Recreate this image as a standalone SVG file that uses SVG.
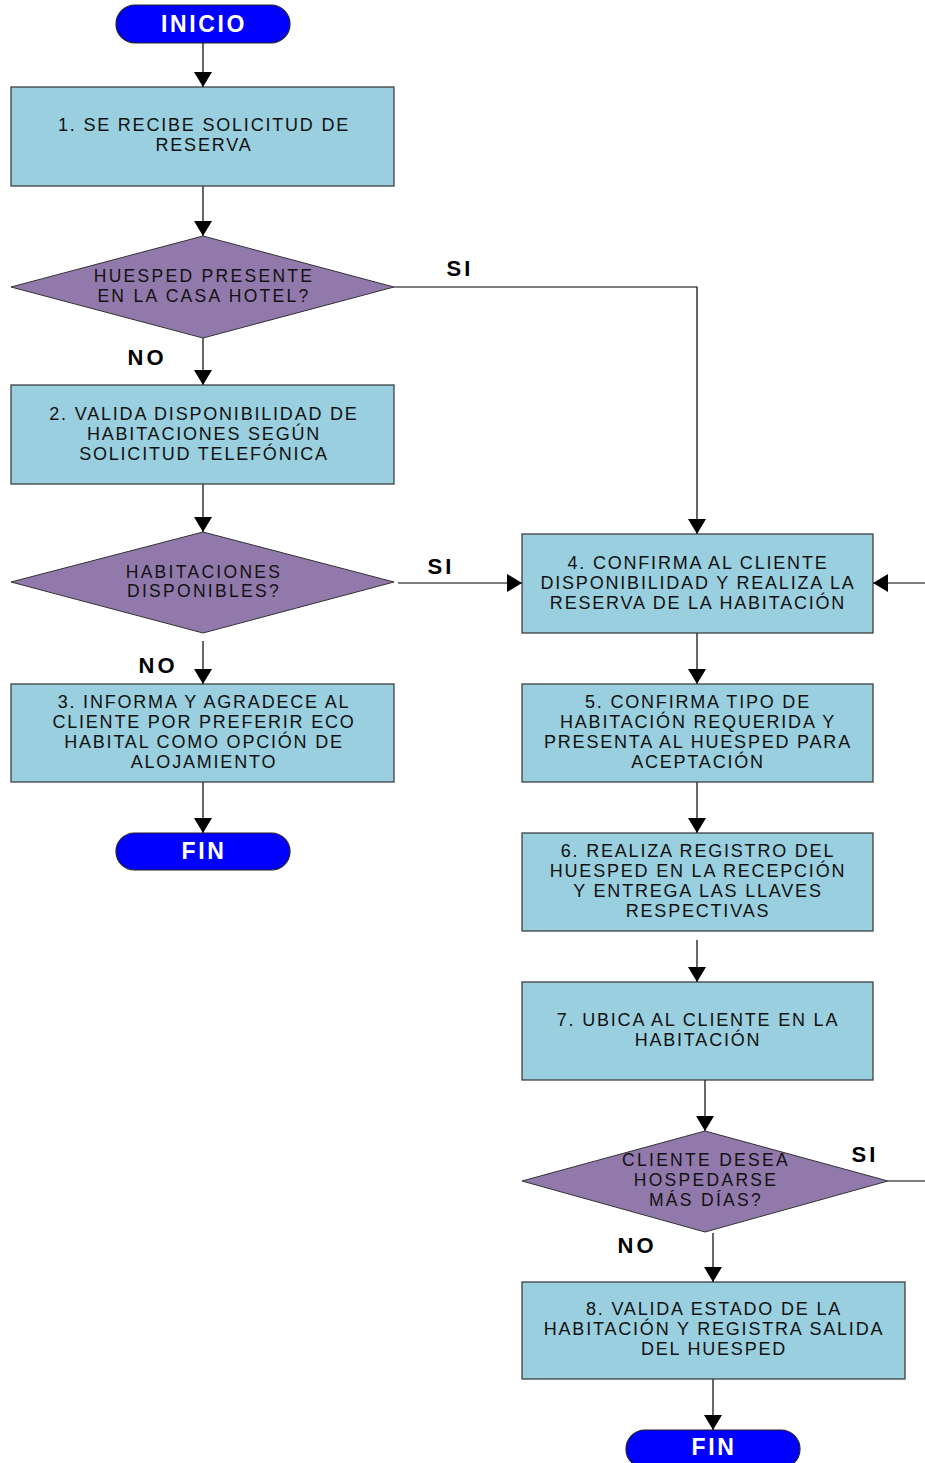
<svg xmlns="http://www.w3.org/2000/svg" width="925" height="1463" viewBox="0 0 925 1463">
<defs>
<marker id="ah" markerWidth="15" markerHeight="18" refX="15" refY="9" orient="auto" markerUnits="userSpaceOnUse"><path d="M0,0 L15,9 L0,18 Z" fill="#000"/></marker>
<style>
.box{fill:#99CFDE;stroke:#333;stroke-width:1.2}
.dia{fill:#9279AB;stroke:#333;stroke-width:1}
.term{fill:#0000FF;stroke:#222;stroke-width:1.2}
.t{font-family:"Liberation Sans",Arial,sans-serif;font-size:18px;letter-spacing:1.8px;fill:#111;text-anchor:middle}
.d{font-family:"Liberation Sans",Arial,sans-serif;font-size:17.5px;letter-spacing:2.3px;fill:#111;text-anchor:middle}
.tt{font-family:"Liberation Sans",Arial,sans-serif;font-size:23px;letter-spacing:2.6px;font-weight:bold;fill:#fff;text-anchor:middle}
.l{font-family:"Liberation Sans",Arial,sans-serif;font-size:22px;letter-spacing:3px;font-weight:bold;fill:#000;text-anchor:middle}
.c{fill:none;stroke:#000;stroke-width:1.2}
</style>
</defs>
<rect width="925" height="1463" fill="#fff"/>
<g id="connectors">
<path class="c" d="M203,43 V87" marker-end="url(#ah)"/>
<path class="c" d="M203,186 V236" marker-end="url(#ah)"/>
<path class="c" d="M394,287 H697 V534" marker-end="url(#ah)"/>
<path class="c" d="M203,338 V385" marker-end="url(#ah)"/>
<path class="c" d="M203,484 V532" marker-end="url(#ah)"/>
<path class="c" d="M398,583 H522" marker-end="url(#ah)"/>
<path class="c" d="M203,641 V684" marker-end="url(#ah)"/>
<path class="c" d="M203,782 V833" marker-end="url(#ah)"/>
<path class="c" d="M697,633 V684" marker-end="url(#ah)"/>
<path class="c" d="M697,782 V833" marker-end="url(#ah)"/>
<path class="c" d="M697,940 V982" marker-end="url(#ah)"/>
<path class="c" d="M705,1080 V1131" marker-end="url(#ah)"/>
<path class="c" d="M888,1181 H925"/>
<path class="c" d="M925,583 H873" marker-end="url(#ah)"/>
<path class="c" d="M713,1233 V1282" marker-end="url(#ah)"/>
<path class="c" d="M713,1379 V1430" marker-end="url(#ah)"/>
<text class="l" x="460" y="276">SI</text>
<text class="l" x="147" y="365">NO</text>
<text class="l" x="441" y="574">SI</text>
<text class="l" x="158" y="673">NO</text>
<text class="l" x="865" y="1162">SI</text>
<text class="l" x="637" y="1253">NO</text>
</g>
<g id="inicio">
<rect class="term" x="116" y="5" width="174" height="38" rx="19"/>
<text class="tt" x="204" y="32">INICIO</text>
</g>
<g id="box1">
<rect class="box" x="11" y="87" width="383" height="99"/>
<text class="t" x="204" y="131">1.  SE RECIBE SOLICITUD DE</text>
<text class="t" x="204" y="151">RESERVA</text>
</g>
<g id="dec1">
<polygon class="dia" points="203,236 394,287 203,338 11,287"/>
<text class="d" x="204" y="282">HUESPED PRESENTE</text>
<text class="d" x="204" y="302">EN LA CASA HOTEL?</text>
</g>
<g id="box2">
<rect class="box" x="11" y="385" width="383" height="99"/>
<text class="t" x="204" y="420">2. VALIDA DISPONIBILIDAD DE</text>
<text class="t" x="204" y="440">HABITACIONES SEGÚN</text>
<text class="t" x="204" y="460">SOLICITUD TELEFÓNICA</text>
</g>
<g id="dec2">
<polygon class="dia" points="203,532 394,582 203,633 11,582"/>
<text class="d" x="204" y="578">HABITACIONES</text>
<text class="d" x="204" y="597">DISPONIBLES?</text>
</g>
<g id="box3">
<rect class="box" x="11" y="684" width="383" height="98"/>
<text class="t" x="204" y="708">3. INFORMA Y AGRADECE AL</text>
<text class="t" x="204" y="728">CLIENTE POR PREFERIR ECO</text>
<text class="t" x="204" y="748">HABITAL COMO OPCIÓN DE</text>
<text class="t" x="204" y="768">ALOJAMIENTO</text>
</g>
<g id="fin1">
<rect class="term" x="116" y="833" width="174" height="37" rx="18.5"/>
<text class="tt" x="204" y="859">FIN</text>
</g>
<g id="box4">
<rect class="box" x="522" y="534" width="351" height="99"/>
<text class="t" x="698" y="569">4. CONFIRMA AL CLIENTE</text>
<text class="t" x="698" y="589">DISPONIBILIDAD Y REALIZA LA</text>
<text class="t" x="698" y="609">RESERVA DE LA HABITACIÓN</text>
</g>
<g id="box5">
<rect class="box" x="522" y="684" width="351" height="98"/>
<text class="t" x="698" y="708">5. CONFIRMA TIPO DE</text>
<text class="t" x="698" y="728">HABITACIÓN REQUERIDA Y</text>
<text class="t" x="698" y="748">PRESENTA AL HUESPED PARA</text>
<text class="t" x="698" y="768">ACEPTACIÓN</text>
</g>
<g id="box6">
<rect class="box" x="522" y="833" width="351" height="98"/>
<text class="t" x="698" y="857">6. REALIZA REGISTRO DEL</text>
<text class="t" x="698" y="877">HUESPED EN LA RECEPCIÓN</text>
<text class="t" x="698" y="897">Y ENTREGA LAS LLAVES</text>
<text class="t" x="698" y="917">RESPECTIVAS</text>
</g>
<g id="box7">
<rect class="box" x="522" y="982" width="351" height="98"/>
<text class="t" x="698" y="1026">7. UBICA AL CLIENTE EN LA</text>
<text class="t" x="698" y="1046">HABITACIÓN</text>
</g>
<g id="dec3">
<polygon class="dia" points="705,1131 888,1181 705,1232 522,1181"/>
<text class="d" x="706" y="1166">CLIENTE DESEA</text>
<text class="d" x="706" y="1186">HOSPEDARSE</text>
<text class="d" x="706" y="1206">MÁS DÍAS?</text>
</g>
<g id="box8">
<rect class="box" x="522" y="1282" width="383" height="97"/>
<text class="t" x="714" y="1315">8. VALIDA ESTADO DE LA</text>
<text class="t" x="714" y="1335">HABITACIÓN Y REGISTRA SALIDA</text>
<text class="t" x="714" y="1355">DEL HUESPED</text>
</g>
<g id="fin2">
<rect class="term" x="626" y="1430" width="174" height="38" rx="19"/>
<text class="tt" x="714" y="1455">FIN</text>
</g>
</svg>
